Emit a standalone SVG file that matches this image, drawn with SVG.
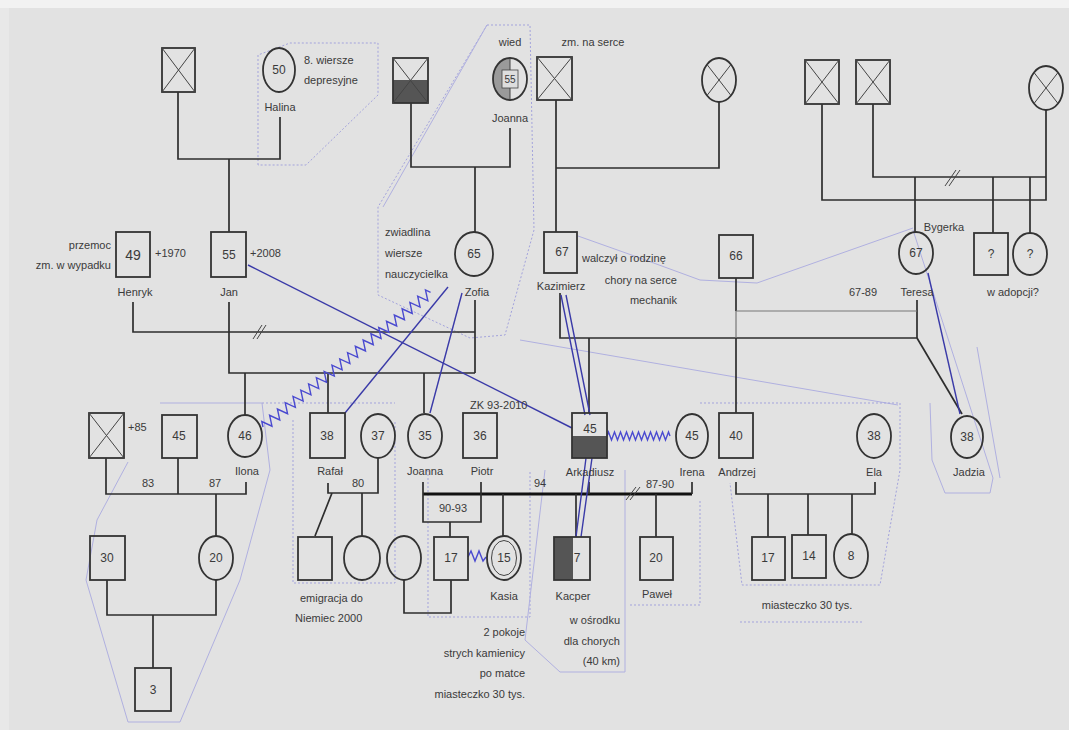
<svg xmlns="http://www.w3.org/2000/svg" width="1069" height="730" viewBox="0 0 1069 730">
<style>
.s{fill:none;stroke:#333;stroke-width:1.8}
.l{fill:none;stroke:#2e2e2e;stroke-width:1.7}
.g{fill:none;stroke:#777;stroke-width:1.2}
.h{fill:none;stroke:#111;stroke-width:3.2}
.x{fill:none;stroke:#444;stroke-width:1}
.b{fill:none;stroke:#3a3aa8;stroke-width:1.4}
.z{fill:none;stroke:#4a4ad0;stroke-width:1.4}
.d{fill:none;stroke:#a3a3dc;stroke-width:1;stroke-dasharray:2 2}
.f{fill:none;stroke:#b0b0e0;stroke-width:1}
text{font-family:"Liberation Sans",Arial,sans-serif;fill:#3a3a3a;font-size:11px}
.n{text-anchor:middle;font-size:12px}
.c{text-anchor:middle}
.r{text-anchor:end}
</style>
<rect width="1069" height="730" fill="#e2e2e2"/>
<rect width="1069" height="8" fill="#f2f2f2"/>
<rect x="0" y="8" width="9" height="722" fill="#e8e8e8"/>

<g id="boundaries">
<path class="d" d="M258 165 L258 55 L290 43 L378 43 L378 95 L306 165 Z"/>
<path class="d" d="M487 25 L530 25 L534 230 L505 335 L470 338 L378 295 L378 207 Z"/>
<path class="f" d="M487 25 L383 207"/>
<path class="f" d="M578 236 L640 258 L700 280 L757 283 L913 228"/>
<path class="f" d="M520 340 L898 405"/>
<path class="f" d="M160 403 L262 403 L270 470 L240 580 L180 722 L128 722 L86 580 L97 520 L128 462"/>
<path class="d" d="M262 403 L395 403"/>
<path class="d" d="M293 420 L293 583 L395 583 L395 420"/>
<path class="d" d="M428 470 L428 617 L530 617 L530 470"/>
<path class="f" d="M545 470 L525 640 L560 672 L625 672 L625 470"/>
<path class="d" d="M630 605 L700 605 L700 500"/>
<path class="d" d="M700 403 L900 403 L900 470 L880 585 L742 585 L730 483"/>
<path class="d" d="M740 622 L862 622"/>
<path class="f" d="M913 230 L993 478 L990 493 L945 493 L932 460 L930 403"/>
<path class="f" d="M977 347 L1000 478"/>
</g>

<g id="connectors">
<path class="l" d="M178 92 V159 H280 V117 M229 159 V232"/>
<path class="l" d="M411 103 V167 H510 V128 M475 167 V232"/>
<path class="l" d="M556 100 V232 M556 168 H719 V102"/>
<path class="l" d="M822 104 V200 H1046 V110 M873 104 V177 H1046 M915 177 V232 M993 177 V233 M1030 177 V233"/>
<path class="x" d="M945 186 L956 170 M949 186 L960 170"/>
<path class="l" d="M133 302 V332 H475 M229 302 V373 H475 M475 300 V373"/>
<path class="x" d="M253 339 L262 325 M257 339 L266 325"/>
<path class="l" d="M245 373 V415 M328 373 V413 M424 373 V413"/>
<path class="l" d="M560 293 V338 H917 V300 M589 338 V413"/>
<path class="l" d="M736 278 V311 M736 338 V413"/>
<path class="g" d="M736 311 V338 M736 311 H917"/>
<path class="l" d="M917 338 L962 414"/>
<path class="l" d="M106 458 V494 H246 V482 M178 458 V494 M216 494 V536"/>
<path class="l" d="M107 580 V615 H216 V580 M153 615 V668"/>
<path class="l" d="M328 483 V493 H378 V458 M332 493 L315 536 M362 493 V536"/>
<path class="h" d="M423 494 H692"/>
<path class="l" d="M423 482 V522 H481 V482 M450 522 V537 M503 494 V537"/>
<path class="l" d="M589 482 V494 M692 482 V494 M576 494 V537 M656 494 V537"/>
<path class="x" d="M626 500 L636 487 M630 500 L640 487"/>
<path class="l" d="M404 580 V613 H451 V580"/>
<path class="l" d="M736 482 V494 H875 V482 M768 494 V537 M808 494 V535 M852 494 V535"/>
<path class="b" d="M248 265 L572 428"/>
<path class="b" d="M448 287 L345 413"/>
<path class="b" d="M462 293 L430 413"/>
<path class="b" d="M561 295 L585 415 M566 295 L590 415"/>
<path class="b" d="M586 458 L576 537 M592 458 L581 537"/>
<path class="b" d="M928 273 L960 414"/>
<path class="z" transform="translate(263,427) rotate(-38.8)" d="M0 0 l2.5 -5 l5 10 l5 -10 l5 10 l5 -10 l5 10 l5 -10 l5 10 l5 -10 l5 10 l5 -10 l5 10 l5 -10 l5 10 l5 -10 l5 10 l5 -10 l5 10 l5 -10 l5 10 l5 -10 l5 10 l5 -10 l5 10 l5 -10 l5 10 l5 -10 l5 10 l5 -10 l5 10 l5 -10 l5 10 l5 -10 l5 10 l5 -10 l5 10 l5 -10 l5 10 l5 -10 l5 10 l5 -10 l5 10 l5 -10 l2.5 5"/>
<path class="z" transform="translate(607,436)" d="M0 0 l1.5 -4 l3 8 l3 -8 l3 8 l3 -8 l3 8 l3 -8 l3 8 l3 -8 l3 8 l3 -8 l3 8 l3 -8 l3 8 l3 -8 l3 8 l3 -8 l3 8 l3 -8 l3 8 l3 -8 l1.5 4"/>
<path class="z" d="M468 557 l3 -6 l4 10 l4 -10 l4 10 l3 -4"/>
</g>

<g id="gf1"><rect class="s" x="162" y="48" width="33" height="44"/><path class="x" d="M162 48 L195 92 M195 48 L162 92"/></g>
<g id="halina"><ellipse class="s" cx="279" cy="70" rx="16" ry="22"/><text class="n" x="279" y="74">50</text><text class="c" x="280" y="111">Halina</text><text x="304" y="64">8. wiersze</text><text x="304" y="84">depresyjne</text></g>
<g id="gf2"><rect x="393" y="80" width="35" height="23" fill="#555"/><rect class="s" x="393" y="58" width="35" height="45"/><path class="x" d="M393 58 L428 103 M428 58 L393 103"/></g>
<g id="joanna1"><path d="M510 58 A17 21 0 0 0 510 100 Z" fill="#9a9a9a"/><ellipse class="s" cx="510" cy="79" rx="17" ry="21"/><path class="x" d="M510 58 V100"/><rect x="502" y="70" width="16" height="18" fill="#dedede" stroke="#444" stroke-width="0.8"/><text class="n" x="510" y="83" style="font-size:10px">55</text><text class="c" x="510" y="46">wied</text><text class="c" x="510" y="122">Joanna</text></g>
<g id="gf3"><rect class="s" x="537" y="57" width="35" height="43"/><path class="x" d="M537 57 L572 100 M572 57 L537 100"/><text class="c" x="593" y="46">zm. na serce</text></g>
<g id="gm3"><ellipse class="s" cx="719" cy="80" rx="17" ry="22"/><path class="x" d="M707 64.5 L731 95.5 M731 64.5 L707 95.5"/></g>
<g id="gf4"><rect class="s" x="805" y="60" width="34" height="44"/><path class="x" d="M805 60 L839 104 M839 60 L805 104"/></g>
<g id="gf5"><rect class="s" x="856" y="60" width="34" height="44"/><path class="x" d="M856 60 L890 104 M890 60 L856 104"/></g>
<g id="gm5"><ellipse class="s" cx="1046" cy="88" rx="17" ry="22"/><path class="x" d="M1034 72.5 L1058 103.5 M1058 72.5 L1034 103.5"/></g>

<g id="henryk"><rect class="s" x="116" y="232" width="34" height="45"/><text class="n" x="133" y="260" style="font-size:14px">49</text><text class="r" x="111" y="249">przemoc</text><text class="r" x="111" y="269">zm. w wypadku</text><text x="155" y="257">+1970</text><text class="c" x="135" y="296">Henryk</text></g>
<g id="jan"><rect class="s" x="211" y="232" width="35" height="45"/><text class="n" x="229" y="259">55</text><text x="250" y="257">+2008</text><text class="c" x="229" y="296">Jan</text></g>
<g id="zofia"><ellipse class="s" cx="474" cy="254" rx="19" ry="22"/><text class="n" x="474" y="258">65</text><text class="c" x="477" y="296">Zofia</text><text x="385" y="236">zwiadlina</text><text x="385" y="257">wiersze</text><text x="385" y="278">nauczycielka</text></g>
<g id="kazimierz"><rect class="s" x="544" y="232" width="33" height="41"/><text class="n" x="562" y="256">67</text><text class="c" x="561" y="290">Kazimierz</text><text x="582" y="262">walczył o rodzinę</text><text class="r" x="677" y="284">chory na serce</text><text class="r" x="677" y="304">mechanik</text></g>
<g id="p66"><rect class="s" x="719" y="235" width="34" height="43"/><text class="n" x="736" y="260">66</text></g>
<g id="teresa"><ellipse class="s" cx="916" cy="253" rx="17" ry="21"/><text class="n" x="916" y="257">67</text><text class="c" x="917" y="296">Teresa</text><text class="c" x="944" y="231">Bygerka</text><text class="c" x="863" y="296">67-89</text></g>
<g id="q1"><rect class="s" x="974" y="233" width="34" height="42"/><text class="n" x="991" y="258">?</text></g>
<g id="q2"><ellipse class="s" cx="1030" cy="254" rx="17" ry="21"/><text class="n" x="1030" y="258">?</text><text class="c" x="1013" y="296">w adopcji?</text></g>

<g id="d85"><rect class="s" x="89" y="413" width="35" height="45"/><path class="x" d="M89 413 L124 458 M124 413 L89 458"/><text x="128" y="431">+85</text></g>
<g id="p45"><rect class="s" x="162" y="415" width="35" height="43"/><text class="n" x="179" y="440">45</text><text class="c" x="148" y="487">83</text><text class="c" x="215" y="487">87</text></g>
<g id="ilona"><ellipse class="s" cx="245" cy="436" rx="17" ry="21"/><text class="n" x="245" y="440">46</text><text class="c" x="247" y="475">Ilona</text></g>
<g id="rafal"><rect class="s" x="310" y="413" width="35" height="45"/><text class="n" x="327" y="440">38</text><text class="c" x="330" y="475">Rafał</text><text class="c" x="358" y="487">80</text></g>
<g id="w37"><ellipse class="s" cx="378" cy="436" rx="17" ry="22"/><text class="n" x="378" y="440">37</text></g>
<g id="joanna"><ellipse class="s" cx="425" cy="436" rx="17" ry="22"/><text class="n" x="425" y="440">35</text><text class="c" x="425" y="475">Joanna</text></g>
<g id="piotr"><rect class="s" x="463" y="413" width="34" height="45"/><text class="n" x="480" y="440">36</text><text class="c" x="482" y="475">Piotr</text><text x="470" y="409">ZK 93-2010</text><text class="c" x="453" y="512">90-93</text><text class="c" x="540" y="487">94</text></g>
<g id="arkadiusz"><rect x="572" y="436" width="35" height="22" fill="#555"/><rect class="s" x="572" y="413" width="35" height="45"/><text class="n" x="590" y="433">45</text><text class="c" x="590" y="476">Arkadiusz</text></g>
<g id="irena"><ellipse class="s" cx="692" cy="436" rx="16" ry="22"/><text class="n" x="692" y="440">45</text><text class="c" x="692" y="476">Irena</text><text class="c" x="660" y="488">87-90</text></g>
<g id="andrzej"><rect class="s" x="719" y="413" width="34" height="45"/><text class="n" x="736" y="440">40</text><text class="c" x="737" y="476">Andrzej</text></g>
<g id="ela"><ellipse class="s" cx="874" cy="436" rx="17" ry="22"/><text class="n" x="874" y="440">38</text><text class="c" x="874" y="476">Ela</text></g>
<g id="jadzia"><ellipse class="s" cx="967" cy="437" rx="16" ry="21"/><text class="n" x="967" y="441">38</text><text class="c" x="969" y="476">Jadzia</text></g>

<g id="p30"><rect class="s" x="90" y="536" width="35" height="44"/><text class="n" x="107" y="562">30</text></g>
<g id="w20"><ellipse class="s" cx="216" cy="558" rx="17" ry="22"/><text class="n" x="216" y="562">20</text></g>
<g id="p3"><rect class="s" x="135" y="668" width="36" height="43"/><text class="n" x="153" y="694">3</text></g>
<g id="esq"><rect class="s" x="298" y="537" width="34" height="43"/><text x="300" y="602">emigracja do</text><text x="295" y="622">Niemiec 2000</text></g>
<g id="ecir"><ellipse class="s" cx="362" cy="558" rx="18" ry="22"/></g>
<g id="ecir2"><ellipse class="s" cx="404" cy="558" rx="17" ry="22"/></g>
<g id="p17a"><rect class="s" x="434" y="537" width="34" height="43"/><text class="n" x="451" y="562">17</text></g>
<g id="kasia"><ellipse class="s" cx="504" cy="558" rx="17" ry="22"/><ellipse class="x" cx="504" cy="558" rx="12.5" ry="17.5" stroke-width="1.4"/><text class="n" x="504" y="562">15</text><text class="c" x="504" y="600">Kasia</text><text class="r" x="525" y="636">2 pokoje</text><text class="r" x="525" y="657">strych kamienicy</text><text class="r" x="525" y="677">po matce</text><text class="r" x="525" y="698">miasteczko 30 tys.</text></g>
<g id="kacper"><rect x="554" y="537" width="19" height="43" fill="#555"/><rect class="s" x="554" y="537" width="36" height="43"/><text class="n" x="577" y="562">7</text><text class="c" x="573" y="600">Kacper</text><text class="r" x="620" y="624">w ośrodku</text><text class="r" x="620" y="645">dla chorych</text><text class="r" x="620" y="665">(40 km)</text></g>
<g id="pawel"><rect class="s" x="640" y="537" width="33" height="43"/><text class="n" x="656" y="562">20</text><text class="c" x="657" y="598">Paweł</text></g>
<g id="p17b"><rect class="s" x="752" y="537" width="33" height="43"/><text class="n" x="768" y="562">17</text></g>
<g id="p14"><rect class="s" x="792" y="535" width="34" height="43"/><text class="n" x="809" y="560">14</text></g>
<g id="w8"><ellipse class="s" cx="851" cy="556" rx="17" ry="22"/><text class="n" x="851" y="560">8</text><text class="c" x="807" y="609">miasteczko 30 tys.</text></g>
</svg>
